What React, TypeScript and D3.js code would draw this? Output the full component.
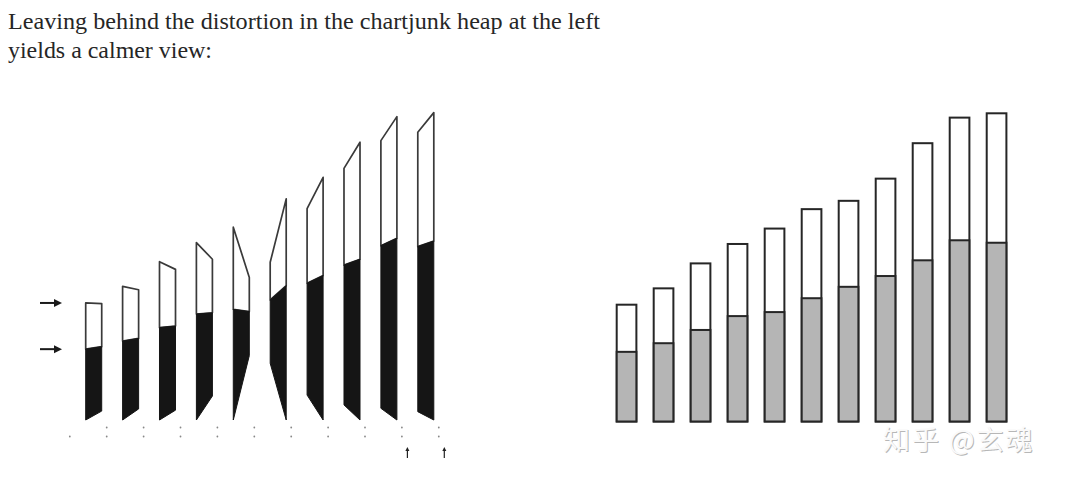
import React from 'react';
import * as d3 from 'd3';

// caption lines
const captionLines = [
  'Leaving behind the distortion in the chartjunk heap at the left',
  'yields a calmer view:',
];

// left (chartjunk) panel: 10 skewed bars, values on a 0-100 index
const junkBars = d3.range(10).map(String);
const junkTopL = [38.0, 43.4, 51.4, 57.6, 62.6, 51.2, 68.6, 81.7, 90.7, 93.4];
const junkTopR = [37.8, 42.3, 48.9, 52.2, 46.3, 71.8, 78.8, 90.2, 98.5, 99.8];
const junkDivL = [23.0, 25.6, 30.0, 34.4, 35.9, 39.0, 44.4, 50.3, 56.6, 56.3];
const junkDivR = [23.8, 26.5, 30.5, 34.8, 35.2, 43.6, 46.9, 52.2, 59.0, 58.1];
const junkBotL = [0, 0, 0, 0, 0, 18.4, 8.1, 4.9, 3.8, 2.7];
const junkBotR = [2.9, 3.6, 3.2, 7.8, 20.9, 0, 0, 0, 0, 0];
const junkTicks = d3.range(11);
const junkUpArrows = [9, 10];

// right (calm) panel: 11 plain stacked bars
const calmBars = d3.range(11).map(String);
const calmTotal = [37.9, 43.2, 51.3, 57.6, 62.6, 68.9, 71.6, 78.8, 90.3, 98.6, 100];
const calmLower = [22.6, 25.4, 29.7, 34.2, 35.5, 40.0, 43.7, 47.2, 52.3, 58.8, 58.0];

const W = 1080;
const H = 483;

export default function App() {
  const xJunk = d3.scaleBand<string>().domain(junkBars).range([85.7, 433.8]).paddingInner(0.566).paddingOuter(0);
  const yJunk = d3.scaleLinear().domain([0, 100]).range([420, 112]);
  const bwJ = xJunk.bandwidth();
  const stepJ = xJunk.step();
  const tickX = (i: number) => (xJunk('0') ?? 0) + bwJ + 5 + (i - 1) * stepJ;

  const xCalm = d3.scaleBand<string>().domain(calmBars).range([615.7, 1007.4]).paddingInner(0.414).paddingOuter(0);
  const yCalm = d3.scaleLinear().domain([0, 100]).range([421.5, 113.3]);
  const bwC = xCalm.bandwidth();

  const poly = (pts: [number, number][]) => d3.line()(pts) + 'Z';

  return (
    <svg width={W} height={H} viewBox={`0 0 ${W} ${H}`} style={{ position: 'absolute', left: 0, top: 0, background: '#fff' }}>
      <rect width={W} height={H} fill="#fff" />

      {/* caption */}
      {captionLines.map((t, i) => (
        <text key={i} x={8} y={29 + i * 29} fontFamily="'Liberation Serif', serif" fontSize={22.5} fill="#262626"
          textLength={i === 0 ? 592 : 204} lengthAdjust="spacingAndGlyphs">
          {t}
        </text>
      ))}

      {/* left arrows */}
      {[junkTopL[0], junkDivL[0]].map((v, i) => (
        <g key={i} transform={`translate(40,${yJunk(v)})`}>
          <line x1={0} x2={16} y1={0} y2={0} stroke="#1a1a1a" strokeWidth={2} />
          <path d="M14,-4 L22,0 L14,4 Z" fill="#1a1a1a" />
        </g>
      ))}

      {/* chartjunk bars */}
      {junkBars.map((c, i) => {
        const L = xJunk(c) ?? 0;
        const R = L + bwJ;
        const upper = poly([[L, yJunk(junkTopL[i])], [R, yJunk(junkTopR[i])], [R, yJunk(junkDivR[i])], [L, yJunk(junkDivL[i])]]);
        const lower = poly([[L, yJunk(junkDivL[i])], [R, yJunk(junkDivR[i])], [R, yJunk(junkBotR[i])], [L, yJunk(junkBotL[i])]]);
        return (
          <g key={c}>
            <path d={upper} fill="#fff" stroke="#3a3a3a" strokeWidth={1.7} strokeLinejoin="round" />
            <path d={lower} fill="#151515" stroke="#151515" strokeWidth={1} />
          </g>
        );
      })}

      {/* faint tick dots */}
      {junkTicks.map((i) => (
        <g key={i} fill="#888">
          {i > 0 && <circle cx={tickX(i)} cy={427.5} r={0.9} />}
          <circle cx={tickX(i)} cy={436.5} r={0.9} />
        </g>
      ))}
      {junkUpArrows.map((i) => (
        <g key={i} transform={`translate(${tickX(i) + 5.5},448)`}>
          <line x1={0} x2={0} y1={2} y2={10} stroke="#222" strokeWidth={1.2} />
          <path d="M-2,3 L0,-1 L2,3 Z" fill="#222" />
        </g>
      ))}

      {/* calm bars */}
      {calmBars.map((c, i) => {
        const x = (xCalm(c) ?? 0) + 1;
        const w = bwC - 2;
        return (
          <g key={c} stroke="#262626" strokeWidth={2}>
            <rect x={x} y={yCalm(calmTotal[i])} width={w} height={yCalm(0) - yCalm(calmTotal[i])} fill="#fff" />
            <rect x={x} y={yCalm(calmLower[i])} width={w} height={yCalm(0) - yCalm(calmLower[i])} fill="#b5b5b5" />
          </g>
        );
      })}

      {/* watermark */}
      <g fontFamily="'Noto Sans CJK SC', sans-serif" fontSize={27} letterSpacing={2}>
        <text x={884} y={451} fill="#9a9a9a" opacity={0.7}>知乎 @玄魂</text>
        <text x={883} y={450} fill="#fafafa">知乎 @玄魂</text>
      </g>
    </svg>
  );
}
